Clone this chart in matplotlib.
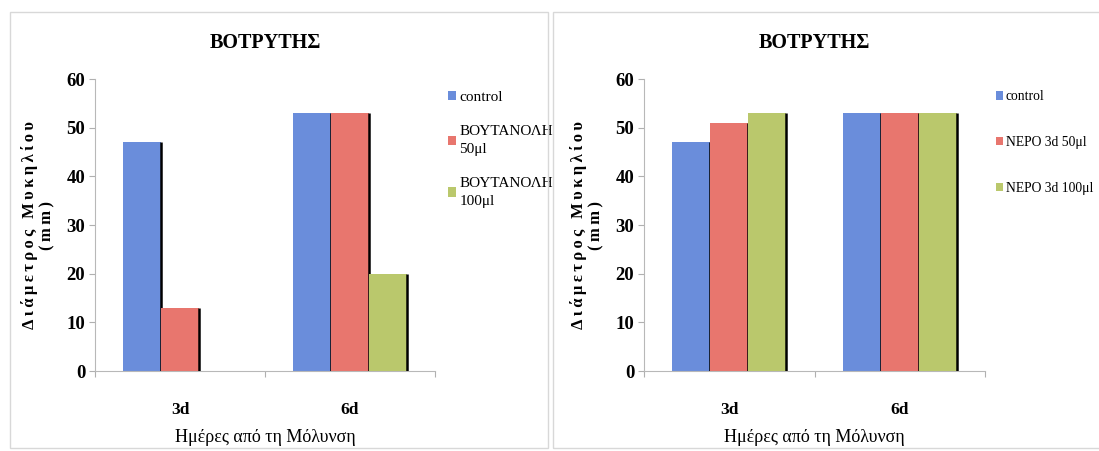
import numpy as np
import matplotlib.pyplot as plt
from matplotlib.patches import Rectangle

plt.rcParams['font.family'] = ['Liberation Serif', 'DejaVu Serif']

categories = ['3d', '6d']
left_labels = ['control', 'ΒΟΥΤΑΝΟΛΗ\n50μl', 'ΒΟΥΤΑΝΟΛΗ\n100μl']
left_values = [[47, 53], [13, 53], [0, 20]]
right_labels = ['control', 'ΝΕΡΟ 3d 50μl', 'ΝΕΡΟ 3d 100μl']
right_values = [[47, 53], [51, 53], [53, 53]]
yticks = [0, 10, 20, 30, 40, 50, 60]

colors = ['#6a8ddb', '#e8766e', '#bac86c']
title = 'ΒΟΤΡΥΤΗΣ'
ylabel = 'Διάμετρος Μυκηλίου\n(mm)'
xlabel = 'Ημέρες από τη Μόλυνση'


def spaced(s):
    # letter spacing like the original axis title
    return '\n'.join('\u2009'.join(line) for line in s.split('\n'))


fig = plt.figure(figsize=(10.99, 4.51), dpi=100)

# panel frames
for x0, w in [(10 / 1099, 538 / 1099), (553 / 1099, 560 / 1099)]:
    fig.patches.append(Rectangle((x0, 3 / 451), w, 436 / 451, transform=fig.transFigure,
                                 fill=False, edgecolor='#d8d8d8', linewidth=1))


def draw_panel(ax, values, labels, legend_anchor, labelspacing, legend_size):
    x = np.arange(len(categories))
    width = 0.2235
    for i, (vals, lab) in enumerate(zip(values, labels)):
        pos = x + (i - 1) * width
        ax.bar(pos, vals, width, color=colors[i], label=lab, zorder=2 + 2 * i)
        for p, v in zip(pos, vals):
            if v > 0:
                ax.vlines(p + width / 2, 0, v, color='black', linewidth=1.8, zorder=3 + 2 * i)
    ax.set_xlim(-0.5, 1.5)
    ax.set_ylim(0, 60)
    ax.set_yticks(yticks)
    ax.set_xticks([-0.5, 0.5, 1.5])
    ax.set_xticklabels([])
    ax.set_xticks(x, minor=True)
    ax.set_xticklabels(categories, minor=True, fontsize=12.5, fontweight='bold')
    ax.tick_params(axis='x', which='minor', length=0, pad=22)
    ax.tick_params(axis='x', which='major', length=4, color='#b0b0b0')
    ax.tick_params(axis='y', length=4, color='#b0b0b0', labelsize=13.5, pad=3)
    for t in ax.get_yticklabels():
        t.set_fontweight('bold')
    for s in ['top', 'right']:
        ax.spines[s].set_visible(False)
    for s in ['left', 'bottom']:
        ax.spines[s].set_color('#b8b8b8')
    ax.set_title(title, fontsize=14.5, fontweight='bold', pad=22)
    ax.set_ylabel(spaced(ylabel), fontsize=12, fontweight='bold', labelpad=8, linespacing=1.15)
    ax.set_xlabel(xlabel, fontsize=13, labelpad=8)
    leg = ax.legend(loc='upper left', bbox_to_anchor=legend_anchor, frameon=False,
                    fontsize=legend_size, handlelength=0.55, handleheight=0.55, handletextpad=0.2,
                    labelspacing=labelspacing, borderaxespad=0)
    for t in leg.get_texts():
        t.set_linespacing(1.45)


ax1 = fig.add_axes([95 / 1099, 80 / 451, 340 / 1099, 292 / 451])
draw_panel(ax1, left_values, left_labels, (1.02, 0.98), 1.4, 11)

ax2 = fig.add_axes([644 / 1099, 80 / 451, 341 / 1099, 292 / 451])
draw_panel(ax2, right_values, right_labels, (1.015, 0.98), 2.4, 9.8)

fig.savefig('out.png', dpi=100, facecolor='white')
